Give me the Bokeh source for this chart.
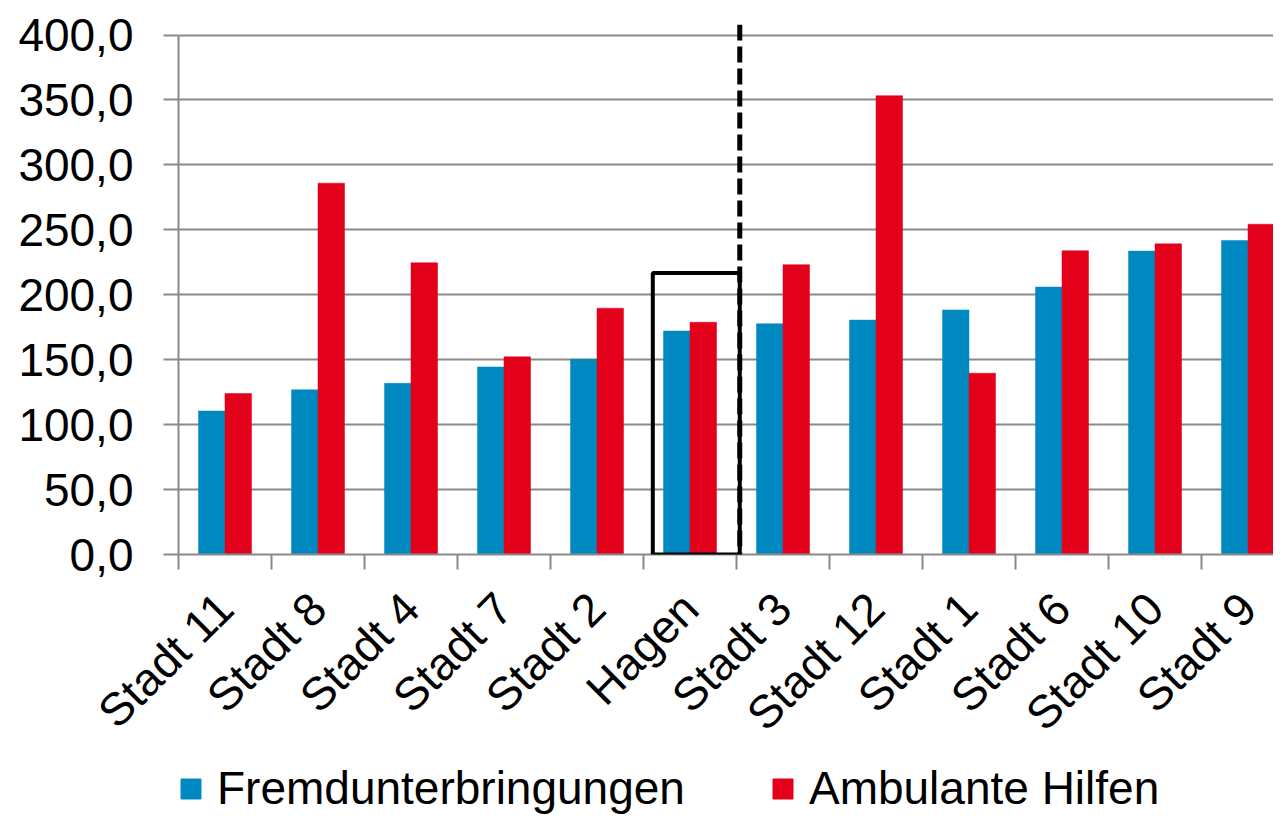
import math
from bokeh.plotting import figure
from bokeh.layouts import column
from bokeh.models import (FixedTicker, Range1d, Span, Legend, LegendItem,
                          ColumnDataSource, BoxAnnotation)
from bokeh.transform import dodge
from bokeh.embed import file_html
from bokeh.resources import INLINE

# ---------------- data ----------------
cities = ["Stadt 11", "Stadt 8", "Stadt 4", "Stadt 7", "Stadt 2", "Hagen",
          "Stadt 3", "Stadt 12", "Stadt 1", "Stadt 6", "Stadt 10", "Stadt 9"]
fremdunterbringungen = [110.5, 126.8, 131.8, 144.4, 150.3, 172.1,
                        177.7, 180.5, 188.3, 205.9, 233.6, 241.7]
ambulante_hilfen = [124.0, 285.9, 224.6, 152.2, 189.7, 178.8,
                    223.2, 353.3, 139.6, 233.9, 239.2, 254.3]
y_ticks = [0, 50, 100, 150, 200, 250, 300, 350, 400]
y_tick_labels = ["0,0", "50,0", "100,0", "150,0", "200,0", "250,0",
                 "300,0", "350,0", "400,0"]
highlight_city = "Hagen"
highlight_top = 216.8
series_names = ["Fremdunterbringungen", "Ambulante Hilfen"]

# ---------------- style ----------------
BLUE = "#0089C1"
RED = "#E2001A"
GRAY = "#898989"
FONT = "Liberation Sans"
W = 1273

idx = list(range(len(cities)))
src = ColumnDataSource(dict(x=idx, fremd=fremdunterbringungen, ambul=ambulante_hilfen))

p = figure(width=W, height=761,
           x_range=Range1d(-0.5, 11.274), y_range=Range1d(0, 408.1),
           output_backend="svg", toolbar_location=None,
           min_border_left=178, min_border_right=0,
           min_border_top=24, min_border_bottom=207)
p.outline_line_color = None
p.background_fill_color = "white"
p.border_fill_color = "white"

bw = 0.285
r1 = p.vbar(x=dodge("x", -bw / 2, range=p.x_range), top="fremd", width=bw, bottom=0,
            source=src, fill_color=BLUE, line_color=BLUE, line_width=0.5)
r2 = p.vbar(x=dodge("x", bw / 2, range=p.x_range), top="ambul", width=bw, bottom=0,
            source=src, fill_color=RED, line_color=RED, line_width=0.5)

# x axis: labels at category centres, ticks at category boundaries
xa = p.xaxis[0]
xa.ticker = FixedTicker(ticks=idx, minor_ticks=[i - 0.5 for i in range(len(cities) + 1)])
xa.major_label_overrides = {i: c for i, c in enumerate(cities)}
xa.major_tick_in = 0
xa.major_tick_out = 0
xa.minor_tick_in = 0
xa.minor_tick_out = 15
xa.minor_tick_line_color = GRAY
xa.minor_tick_line_width = 2
xa.axis_line_color = GRAY
xa.axis_line_width = 2
xa.major_label_orientation = math.pi / 4
xa.major_label_text_font = FONT
xa.major_label_text_font_size = "46px"
xa.major_label_text_color = "black"
xa.major_label_standoff = 31

ya = p.yaxis[0]
ya.ticker = FixedTicker(ticks=y_ticks, minor_ticks=[])
ya.major_label_overrides = {v: s for v, s in zip(y_ticks, y_tick_labels)}
ya.bounds = (y_ticks[0], y_ticks[-1])
ya.major_tick_in = 0
ya.major_tick_out = 15
ya.minor_tick_out = 0
ya.major_tick_line_color = GRAY
ya.major_tick_line_width = 2
ya.axis_line_color = GRAY
ya.axis_line_width = 2
ya.major_label_text_font = FONT
ya.major_label_text_font_size = "46px"
ya.major_label_text_color = "black"
ya.major_label_standoff = 30

p.xgrid.visible = False
p.ygrid.grid_line_color = GRAY
p.ygrid.grid_line_width = 2

# highlight box around Hagen and dashed separator
hi = cities.index(highlight_city)
box = BoxAnnotation(left=hi - 0.40, right=hi + 0.535, bottom=0, top=highlight_top,
                    fill_alpha=0, line_color="black", line_alpha=1.0, line_width=4)
p.add_layout(box)
sep = Span(location=hi + 0.535, dimension="height", line_color="black",
           line_width=5, line_dash="16 6")
p.add_layout(sep)

# ---------------- legend strip ----------------
pl = figure(width=W, height=54, x_range=Range1d(-100, -99), y_range=Range1d(0, 1),
            output_backend="svg", toolbar_location=None,
            x_axis_location=None, y_axis_location=None,
            min_border=0)
pl.outline_line_color = None
pl.xgrid.visible = False
pl.ygrid.visible = False
# legend proxies: same data, drawn outside the visible range of this strip
l1 = pl.vbar(x="x", top="fremd", width=0.3, source=src, fill_color=BLUE, line_color=BLUE)
l2 = pl.vbar(x="x", top="ambul", width=0.3, source=src, fill_color=RED, line_color=RED)
legend = Legend(items=[LegendItem(label=series_names[0], renderers=[l1]),
                       LegendItem(label=series_names[1], renderers=[l2])],
                orientation="horizontal", location=(0, 0),
                padding=0, margin=0, spacing=85, label_standoff=14,
                glyph_width=25, glyph_height=25,
                border_line_color=None, background_fill_alpha=0,
                label_text_font=FONT, label_text_font_size="46px",
                label_text_color="black")
pl.add_layout(legend, "center")

layout = column(p, pl, spacing=0)
open("out.html", "w").write(file_html(layout, INLINE))
